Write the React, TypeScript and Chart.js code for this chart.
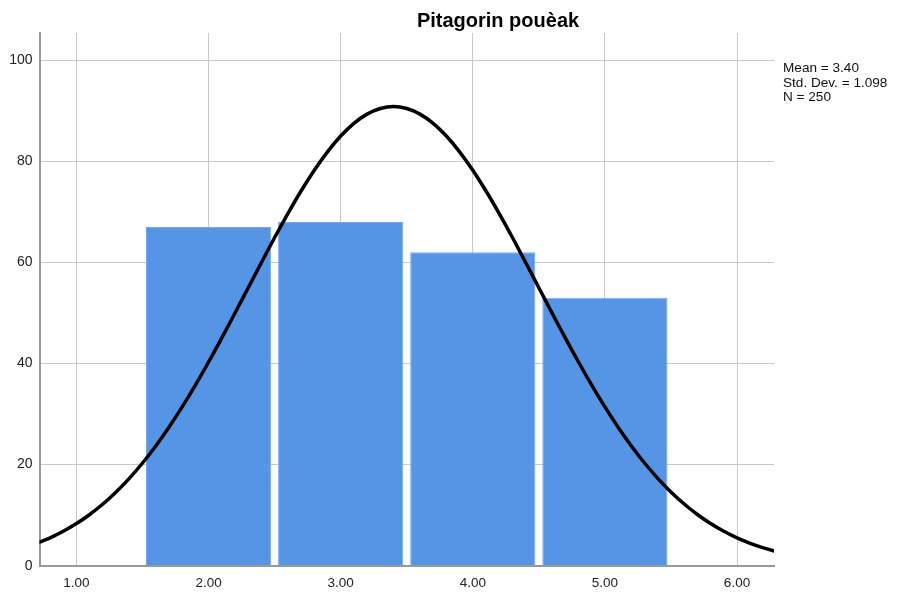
import React, { useEffect, useRef } from "react";
import { Chart, registerables } from "chart.js";

Chart.register(...registerables);

const binCenters = [2, 3, 4, 5];
const binCounts = [67, 68, 62, 53];

const curveX = [
  0.7, 0.8, 0.9, 1.0, 1.1, 1.2, 1.3, 1.4, 1.5, 1.6, 1.7, 1.8, 1.9, 2.0, 2.1, 2.2, 2.3, 2.4, 2.5, 2.6,
  2.7, 2.8, 2.9, 3.0, 3.1, 3.2, 3.3, 3.4, 3.5, 3.6, 3.7, 3.8, 3.9, 4.0, 4.1, 4.2, 4.3, 4.4, 4.5, 4.6,
  4.7, 4.8, 4.9, 5.0, 5.1, 5.2, 5.3, 5.4, 5.5, 5.6, 5.7, 5.8, 5.9, 6.0, 6.1, 6.2, 6.3,
];
const curveY = [
  4.42, 5.5, 6.8, 8.33, 10.13, 12.2, 14.59, 17.29, 20.32, 23.7, 27.4, 31.42, 35.73, 40.3, 45.08, 49.99,
  55.0, 60.0, 64.93, 69.67, 74.14, 78.24, 81.89, 85.01, 87.52, 89.35, 90.46, 90.84, 90.46, 89.35, 87.52,
  85.01, 81.89, 78.24, 74.14, 69.67, 64.93, 60.0, 55.0, 49.99, 45.08, 40.3, 35.73, 31.42, 27.4, 23.7,
  20.32, 17.29, 14.59, 12.2, 10.13, 8.33, 6.8, 5.5, 4.42, 3.52, 2.78,
];

const xTicks = [1, 2, 3, 4, 5, 6];
const xTickLabels = ["1.00", "2.00", "3.00", "4.00", "5.00", "6.00"];
const yTicks = [0, 20, 40, 60, 80, 100];
const yTickLabels = ["0", "20", "40", "60", "80", "100"];

const titleText = "Pitagorin pouèak";
const statsLines = ["Mean = 3.40", "Std. Dev. = 1.098", "N = 250"];

const FONT = "'Liberation Sans', Arial, sans-serif";

export default function App() {
  const ref = useRef<HTMLCanvasElement | null>(null);

  useEffect(() => {
    document.body.style.margin = "0";
    const canvas = ref.current;
    if (!canvas) return;

    const textPlugin = {
      id: "textPlugin",
      afterDraw(chart: any) {
        const ctx = chart.ctx;
        ctx.save();
        ctx.fillStyle = "#000";
        ctx.font = `bold 20px ${FONT}`;
        ctx.textAlign = "center";
        ctx.textBaseline = "alphabetic";
        ctx.fillText(titleText, 498, 27);
        ctx.font = `13.6px ${FONT}`;
        ctx.textAlign = "left";
        ctx.fillStyle = "#111";
        statsLines.forEach((s, i) => {
          ctx.fillText(s, 783, 72 + i * 14.5);
        });
        ctx.restore();
      },
    };

    const chart = new Chart(canvas, {
      data: {
        datasets: [
          {
            type: "line",
            data: curveX.map((x, i) => ({ x, y: curveY[i] })),
            borderColor: "#000",
            borderWidth: 3.5,
            pointRadius: 0,
            tension: 0.3,
            order: 0,
          } as any,
          {
            type: "bar",
            data: binCenters.map((x, i) => ({ x, y: binCounts[i] })),
            backgroundColor: "#5495e5",
            borderColor: "#78aaea",
            borderWidth: 1,
            barPercentage: 0.948,
            categoryPercentage: 1,
            order: 1,
          } as any,
        ],
      },
      options: {
        responsive: false,
        animation: false,
        layout: { padding: { left: 0, top: 33, right: 123, bottom: 0 } },
        plugins: {
          legend: { display: false },
          tooltip: { enabled: false },
          title: { display: false },
        },
        scales: {
          x: {
            type: "linear",
            min: 0.72,
            max: 6.28,
            offset: false,
            afterBuildTicks: (scale: any) => {
              scale.ticks = xTicks.map((v) => ({ value: v }));
            },
            afterFit: (scale: any) => {
              scale.height = 26.3;
            },
            ticks: {
              callback: (v: any) => {
                const i = xTicks.indexOf(Number(v));
                return i >= 0 ? xTickLabels[i] : "";
              },
              color: "#222",
              font: { family: FONT, size: 13.5 },
              padding: 9,
              maxRotation: 0,
            },
            grid: { color: "#c8c8c8", lineWidth: 1, drawTicks: false, offset: false },
            border: { display: true, color: "#999", width: 2 },
          },
          y: {
            type: "linear",
            min: 0,
            max: 105.4,
            afterBuildTicks: (scale: any) => {
              scale.ticks = yTicks.map((v) => ({ value: v }));
            },
            afterFit: (scale: any) => {
              scale.width = 39.5;
            },
            ticks: {
              callback: (v: any) => {
                const i = yTicks.indexOf(Number(v));
                return i >= 0 ? yTickLabels[i] : "";
              },
              color: "#222",
              font: { family: FONT, size: 14 },
              padding: 7,
            },
            grid: { color: "#c8c8c8", lineWidth: 1, drawTicks: false },
            border: { display: true, color: "#999", width: 2 },
          },
        },
      },
      plugins: [textPlugin],
    } as any);

    return () => chart.destroy();
  }, []);

  return (
    <div style={{ width: 897, height: 592, background: "#fff" }}>
      <canvas ref={ref} width={897} height={592} />
    </div>
  );
}
